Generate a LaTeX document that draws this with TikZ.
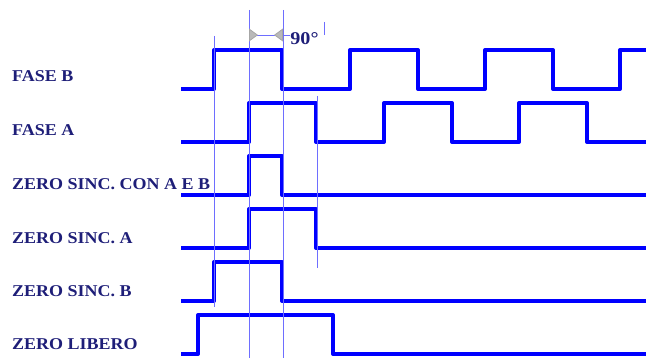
\documentclass[tikz,border=0pt]{standalone}
\usepackage{fontspec}
\setmainfont{Liberation Serif}
\newfontfamily\labelfont[FakeStretch=1.09]{Liberation Serif}
\newfontfamily\degfont[FakeStretch=1.12]{Liberation Serif}
\usetikzlibrary{arrows.meta}
\definecolor{navy}{RGB}{30,30,120}
\definecolor{guideblue}{RGB}{110,110,255}

\begin{document}
\begin{tikzpicture}[x=1pt, y=-1pt,
  wave/.style={blue, line width=4pt, line join=round},
  guide/.style={guideblue, line width=0.8pt},
  siglabel/.style={anchor=west, text=navy, font=\labelfont\bfseries\fontsize{16.5}{19}\selectfont, inner sep=0pt}]
\useasboundingbox (0,0) rectangle (646,358);
% signal names
\node[siglabel] (lblB) at (12,76) {FASE B};
\node[siglabel] (lblA) at (12,130) {FASE A};
\node[siglabel] (lblAB) at (12,184) {ZERO SINC. CON A E B};
\node[siglabel] (lblZA) at (12,238) {ZERO SINC. A};
\node[siglabel] (lblZB) at (12,291) {ZERO SINC. B};
\node[siglabel] (lblZL) at (12,344) {ZERO LIBERO};
% waveforms
\draw[wave] (181,89) -- (214,89) -- (214,50) -- (282,50) -- (282,89) -- (350,89) -- (350,50) -- (418,50) -- (418,89) -- (485,89) -- (485,50) -- (553,50) -- (553,89) -- (620,89) -- (620,50) -- (646,50);
\draw[wave] (181,142) -- (249,142) -- (249,103) -- (316,103) -- (316,142) -- (384,142) -- (384,103) -- (452,103) -- (452,142) -- (519,142) -- (519,103) -- (587,103) -- (587,142) -- (646,142);
\draw[wave] (181,195) -- (249,195) -- (249,156) -- (282,156) -- (282,195) -- (646,195);
\draw[wave] (181,248) -- (249,248) -- (249,209) -- (316,209) -- (316,248) -- (646,248);
\draw[wave] (181,301) -- (214,301) -- (214,262) -- (282,262) -- (282,301) -- (646,301);
\draw[wave] (181,354) -- (198,354) -- (198,315) -- (333,315) -- (333,354) -- (646,354);
% guide lines
\draw[guide] (214,36) -- (214,307);
\draw[guide] (249,10) -- (249,358);
\draw[guide] (283,10) -- (283,358);
\draw[guide] (317,96) -- (317,268);
\draw[guide] (324,22) -- (324,35);
% 90 degree dimension
\coordinate (d1) at (249,35);
\coordinate (d2) at (283,35);
\draw[guide, {Triangle[reversed, length=9pt, width=13pt, fill=gray!55, color=gray!70]}-{Triangle[reversed, length=9pt, width=13pt, fill=gray!55, color=gray!70]}] (d1) -- (d2);
\draw[guide] (d2) -- ++(7,0) node[anchor=west, inner sep=0pt, text=navy, font=\degfont\bfseries\fontsize{18}{20}\selectfont, yshift=-4pt] (deg) {90°};
\end{tikzpicture}
\end{document}
